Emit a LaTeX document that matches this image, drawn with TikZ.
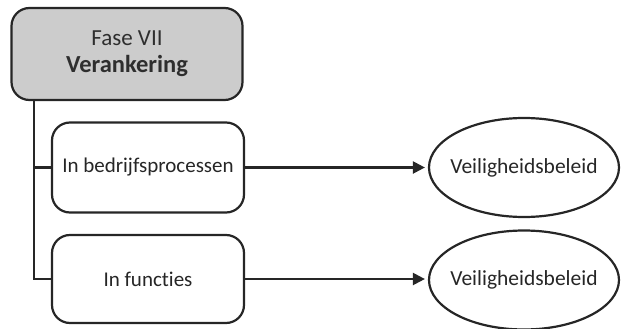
\documentclass[tikz,border=0pt]{standalone}
\usepackage{fontspec}
\setmainfont{Carlito}[Ligatures={NoCommon,NoDiscretionary}]
\usetikzlibrary{shapes.geometric,arrows.meta}
\begin{document}
\begin{tikzpicture}[x=1pt,y=-1pt,
  line width=2.2pt,
  phase/.style={draw=black!85, fill=black!20, rounded corners=18pt, minimum width=231pt, minimum height=92pt, inner sep=0pt, align=center, font=\fontsize{23}{27}\selectfont, text=black!82},
  item/.style={draw=black!85, fill=white, rounded corners=18pt, minimum width=192pt, minimum height=90pt, inner sep=0pt, font=\fontsize{21}{24}\selectfont, text=black!85},
  goal/.style={draw=black!85, ellipse, minimum width=190pt, minimum height=99pt, inner sep=0pt, font=\fontsize{21.5}{24}\selectfont, text=black!85},
  link/.style={draw=black!85, line width=2.2pt},
  arrow/.style={link, shorten >=3pt, -{Triangle[length=12pt,width=12pt]}}]
\useasboundingbox (0,0) rectangle (621,329);
\node[phase] (top) at (127,54) {Fase VII\\{\fontsize{24.5}{27}\selectfont\bfseries Verankering}};
\node[item] (b1) at (148,167.5) {In bedrijfsprocessen};
\node[item, minimum height=88pt] (b2) at (148,279) {In functies};
% the label is boxed at zero width so that the ellipse keeps its set size
\node[goal] (e1) at (524,167.5) {\makebox[0pt]{Veiligheidsbeleid}};
\node[goal] (e2) at (524,280) {\makebox[0pt]{Veiligheidsbeleid}};
\coordinate (trunk) at (34,0);
\draw[link] (top.south -| trunk) |- (b1.west);
\draw[link] (top.south -| trunk) |- (b2.west);
\draw[arrow] (b1.east) -- (b1.east -| e1.west);
\draw[arrow] (b2.east) -- (b2.east -| e2.west);
\end{tikzpicture}
\end{document}
